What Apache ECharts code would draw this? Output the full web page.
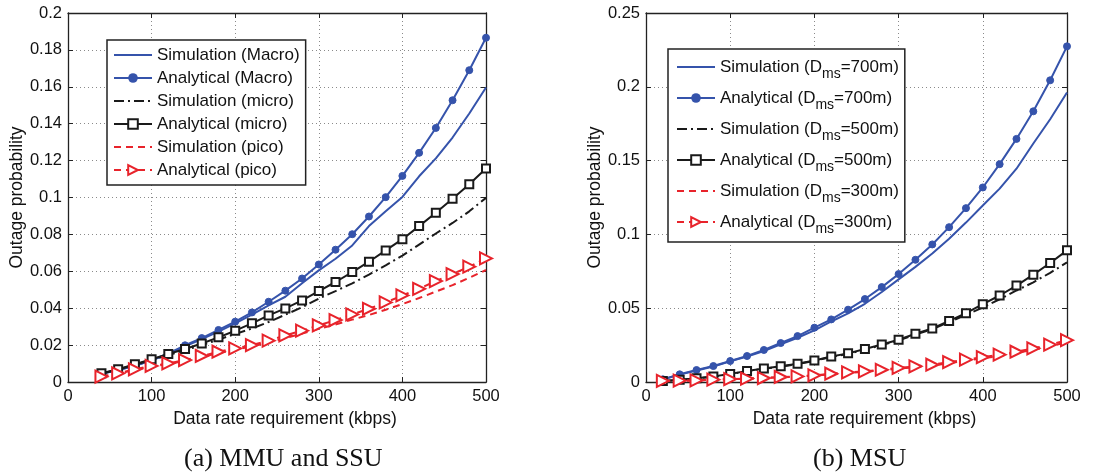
<!DOCTYPE html>
<html>
<head>
<meta charset="utf-8">
<script src="https://cdn.jsdelivr.net/npm/echarts@6/dist/echarts.min.js"></script>
<style>
html,body{margin:0;padding:0;background:#fff;}
#chart{width:1097px;height:472px;}
</style>
</head>
<body>
<div id="chart"></div>
<script>
// ---------- data ----------
const xLeft = [40,60,80,100,120,140,160,180,200,220,240,260,280,300,320,340,360,380,400,420,440,460,480,500];
const macroSim = [0.0045,0.0065,0.0088,0.0117,0.0152,0.0193,0.0232,0.0273,0.0318,0.0365,0.0415,0.0462,0.0535,0.0605,0.0668,0.0740,0.0845,0.0925,0.1003,0.1115,0.1212,0.1325,0.1455,0.1596];
const macroAna = [0.0045,0.0065,0.0088,0.0118,0.0155,0.0199,0.0238,0.0282,0.0327,0.0377,0.0435,0.0495,0.0561,0.0637,0.0717,0.0801,0.0897,0.1002,0.1117,0.1242,0.1377,0.1527,0.1690,0.1866];
const microSim = [0.0045,0.0068,0.0093,0.0120,0.0146,0.0172,0.0200,0.0230,0.0260,0.0290,0.0325,0.0365,0.0405,0.0452,0.0493,0.0535,0.0582,0.0632,0.0685,0.0745,0.0805,0.0862,0.0925,0.0998];
const microAna = [0.0047,0.0069,0.0096,0.0123,0.0152,0.0179,0.0209,0.0242,0.0278,0.0318,0.0361,0.0399,0.0442,0.0493,0.0542,0.0596,0.0652,0.0713,0.0774,0.0845,0.0917,0.0993,0.1072,0.1157];
const picoSim = [0.0028,0.0045,0.0066,0.0083,0.0098,0.0115,0.0135,0.0157,0.0175,0.0193,0.0215,0.0238,0.0262,0.0288,0.0312,0.0338,0.0363,0.0392,0.0422,0.0455,0.0490,0.0525,0.0565,0.0607];
const picoAna = [0.0029,0.0047,0.0069,0.0087,0.0101,0.0119,0.0141,0.0164,0.0182,0.0200,0.0224,0.0253,0.0278,0.0307,0.0336,0.0366,0.0397,0.0431,0.0469,0.0505,0.0547,0.0585,0.0625,0.0670];

const xRight = [20,40,60,80,100,120,140,160,180,200,220,240,260,280,300,320,340,360,380,400,420,440,460,480,500];
const sim700 = [0.0017,0.0050,0.0078,0.0105,0.0140,0.0172,0.0210,0.0255,0.0300,0.0350,0.0410,0.0465,0.0530,0.0610,0.0695,0.0780,0.0870,0.0970,0.1080,0.1196,0.1310,0.1445,0.1616,0.1780,0.1961];
const ana700 = [0.0018,0.0052,0.0081,0.0108,0.0142,0.0176,0.0217,0.0264,0.0311,0.0368,0.0424,0.0490,0.0562,0.0643,0.0731,0.0828,0.0932,0.1049,0.1178,0.1318,0.1476,0.1647,0.1834,0.2044,0.2274];
const sim500 = [0.0006,0.0014,0.0025,0.0036,0.0053,0.0073,0.0090,0.0104,0.0121,0.0143,0.0170,0.0191,0.0220,0.0250,0.0282,0.0322,0.0358,0.0406,0.0455,0.0505,0.0560,0.0620,0.0675,0.0740,0.0810];
const ana500 = [0.0006,0.0015,0.0026,0.0038,0.0055,0.0075,0.0092,0.0106,0.0124,0.0146,0.0173,0.0194,0.0223,0.0254,0.0286,0.0327,0.0363,0.0414,0.0466,0.0527,0.0586,0.0653,0.0727,0.0806,0.0892];
const sim300 = [0.0006,0.0008,0.0010,0.0015,0.0019,0.0022,0.0026,0.0032,0.0036,0.0043,0.0053,0.0062,0.0069,0.0079,0.0090,0.0101,0.0111,0.0128,0.0144,0.0161,0.0176,0.0197,0.0218,0.0241,0.0270];
const ana300 = [0.0007,0.0009,0.0011,0.0016,0.0020,0.0023,0.0027,0.0034,0.0038,0.0045,0.0056,0.0065,0.0072,0.0083,0.0095,0.0106,0.0117,0.0135,0.0151,0.0169,0.0185,0.0205,0.0228,0.0253,0.0283];

const xTicks = {min:0, max:500, interval:100};
const yLeftTicks = {min:0, max:0.2, interval:0.02};
const yRightTicks = {min:0, max:0.25, interval:0.05};

const leftNames = ['Simulation (Macro)','Analytical (Macro)','Simulation (micro)','Analytical (micro)','Simulation (pico)','Analytical (pico)'];
const rightNames = ['Simulation (Dms=700m)','Analytical (Dms=700m)','Simulation (Dms=500m)','Analytical (Dms=500m)','Simulation (Dms=300m)','Analytical (Dms=300m)'];
const captions = ['(a) MMU and SSU','(b) MSU'];
const xTitle = 'Data rate requirement (kbps)';
const yTitle = 'Outage probability';

// ---------- styles ----------
const BLUE = '#3553ab', BLACK = '#1a1a1a', RED = '#e8232b';
const FONT = '"Liberation Sans", Arial, Helvetica, sans-serif';
const DASHDOT = [10,4,2,4];
const DASH = [7,5];
const pairs = (xs, ys) => xs.map((x, i) => [x, ys[i]]);

function mkSeries(name, xs, ys, color, lineType, symbol, size, gi, extra) {
  return Object.assign({
    name: name, type: 'line', xAxisIndex: gi, yAxisIndex: gi,
    data: pairs(xs, ys),
    symbol: symbol || 'none', symbolSize: size || 0,
    showSymbol: !!symbol,
    lineStyle: {color: color, width: 2, type: lineType || 'solid'},
    itemStyle: {color: color, borderColor: color},
    animation: false, z: 3
  }, extra || {});
}

const sqStyle = {itemStyle:{color:BLACK,borderColor:BLACK,borderWidth:1.8}};
const triStyle = {symbolRotate:-90, itemStyle:{color:RED,borderColor:RED,borderWidth:2.4}};

const series = [
  mkSeries(leftNames[0], xLeft, macroSim, BLUE, 'solid', null, 0, 0),
  mkSeries(leftNames[1], xLeft, macroAna, BLUE, 'solid', 'circle', 7, 0),
  mkSeries(leftNames[2], xLeft, microSim, BLACK, DASHDOT, null, 0, 0),
  mkSeries(leftNames[3], xLeft, microAna, BLACK, 'solid', 'emptyRect', 8, 0, sqStyle),
  mkSeries(leftNames[4], xLeft, picoSim, RED, DASH, null, 0, 0),
  mkSeries(leftNames[5], xLeft, picoAna, RED, DASH, 'emptyTriangle', 12, 0, triStyle),
  mkSeries(rightNames[0], xRight, sim700, BLUE, 'solid', null, 0, 2),
  mkSeries(rightNames[1], xRight, ana700, BLUE, 'solid', 'circle', 7, 2),
  mkSeries(rightNames[2], xRight, sim500, BLACK, DASHDOT, null, 0, 2),
  mkSeries(rightNames[3], xRight, ana500, BLACK, 'solid', 'emptyRect', 8, 2, sqStyle),
  mkSeries(rightNames[4], xRight, sim300, RED, DASH, null, 0, 2),
  mkSeries(rightNames[5], xRight, ana300, RED, DASH, 'emptyTriangle', 12, 2, triStyle)
];

function xAx(gi, top) {
  return Object.assign({
    type: 'value', gridIndex: gi, position: top ? 'top' : 'bottom',
    name: top ? '' : xTitle, nameLocation: 'middle', nameGap: 25,
    nameTextStyle: {fontFamily: FONT, fontSize: 17.5, color: '#111', padding: [0,0,0,16]},
    axisLine: {show: true, onZero: false, lineStyle: {color: '#222', width: 1.3}},
    axisTick: {show: true, inside: true, length: 5, lineStyle: {color: '#222'}},
    axisLabel: {show: !top, fontFamily: FONT, fontSize: 16.5, color: '#111', margin: 6},
    splitLine: {show: !top, lineStyle: {color: '#8a8a8a', type: [1,3], width: 1}}
  }, xTicks);
}
function yAx(gi, right, ticks) {
  return Object.assign({
    type: 'value', gridIndex: gi, position: right ? 'right' : 'left',
    name: right ? '' : yTitle, nameLocation: 'middle', nameGap: 41,
    nameTextStyle: {fontFamily: FONT, fontSize: 17.5, color: '#111'},
    axisLine: {show: true, onZero: false, lineStyle: {color: '#222', width: 1.3}},
    axisTick: {show: true, inside: true, length: 5, lineStyle: {color: '#222'}},
    axisLabel: {show: !right, fontFamily: FONT, fontSize: 16.5, color: '#111', margin: 6},
    splitLine: {show: !right, lineStyle: {color: '#8a8a8a', type: [1,3], width: 1}}
  }, ticks);
}

// legend entries: hide the default symbol for plain-line (simulation) series
const legendItems = names => names.map((n, i) => i % 2 === 0
  ? {name: n, itemStyle: {opacity: 0}}
  : {name: n});

const legendBase = {
  orient: 'vertical', backgroundColor: '#fff', borderColor: '#222', borderWidth: 1.5,
  itemWidth: 38, itemHeight: 12, itemGap: 3, align: 'left',
  inactiveColor: '#ccc'
};

const option = {
  backgroundColor: '#fff',
  animation: false,
  grid: [
    {left: 68, top: 13, width: 418, height: 369},
    {left: 646, top: 13, width: 421, height: 369}
  ],
  xAxis: [xAx(0,false), xAx(0,true), xAx(1,false), xAx(1,true)],
  yAxis: [yAx(0,false,yLeftTicks), yAx(0,true,yLeftTicks), yAx(1,false,yRightTicks), yAx(1,true,yRightTicks)],
  legend: [
    Object.assign({}, legendBase, {
      left: 107, top: 40, padding: [5,6,5,6], data: legendItems(leftNames),
      textStyle: {fontFamily: FONT, fontSize: 17, color: '#111', lineHeight: 20}
    }),
    Object.assign({}, legendBase, {
      left: 668, top: 49, padding: [4,6,6,8], itemGap: 3, data: legendItems(rightNames),
      formatter: n => n.replace('Dms', 'D{sub|ms}'),
      textStyle: {fontFamily: FONT, fontSize: 17, color: '#111', lineHeight: 28,
        rich: {sub: {fontFamily: FONT, fontSize: 14, color: '#111', lineHeight: 28, padding: [14,0,0,0]}}}
    })
  ],
  graphic: [
    {type: 'text', left: 184, top: 446, style: {text: captions[0], font: '26px "Liberation Serif", "Times New Roman", serif', fill: '#111'}},
    {type: 'text', left: 813, top: 446, style: {text: captions[1], font: '26px "Liberation Serif", "Times New Roman", serif', fill: '#111'}}
  ],
  series: series
};

const chart = echarts.init(document.getElementById('chart'), null, {renderer: 'canvas'});
chart.setOption(option);
</script>
</body>
</html>
